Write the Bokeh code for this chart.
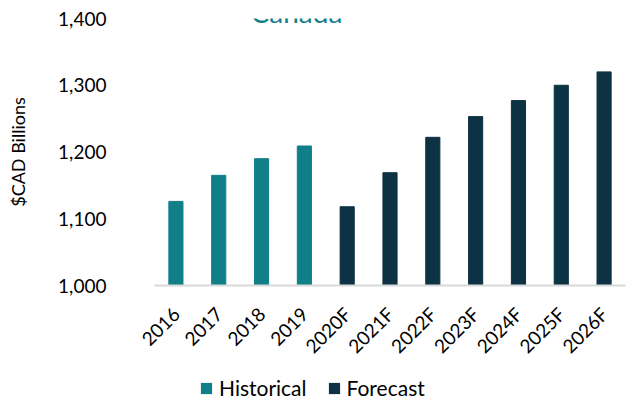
from math import pi
from bokeh.plotting import figure
from bokeh.layouts import column
from bokeh.models import FactorRange, FixedTicker, NumeralTickFormatter, Label, Legend, LegendItem, Range1d
from bokeh.embed import file_html
from bokeh.resources import INLINE

hist_years = ["2016", "2017", "2018", "2019"]
hist_values = [1126, 1165, 1190, 1209]
fc_years = ["2020F", "2021F", "2022F", "2023F", "2024F", "2025F", "2026F"]
fc_values = [1118, 1169, 1222, 1253, 1277, 1300, 1320]
y_ticks = [1000, 1100, 1200, 1300, 1400]
title_text = "- Canada"
y_label = "$CAD Billions"
legend_labels = ["Historical", "Forecast"]

TEAL = "#117F88"
NAVY = "#0D3243"
FONT = "Lato"

years = hist_years + fc_years
xr = FactorRange(factors=years)

p = figure(width=629, height=372, x_range=xr,
           y_range=(1000, 1400), output_backend="svg", toolbar_location=None,
           min_border_left=154, min_border_right=4, min_border_top=18,
           min_border_bottom=87)
p.outline_line_color = None
p.grid.visible = False

p.vbar(x=hist_years, top=hist_values, bottom=1000, width=0.33,
       fill_color=TEAL, line_color=TEAL)
p.vbar(x=fc_years, top=fc_values, bottom=1000, width=0.33,
       fill_color=NAVY, line_color=NAVY)

# y axis
ya = p.yaxis[0]
ya.ticker = FixedTicker(ticks=y_ticks)
ya.formatter = NumeralTickFormatter(format="0,0")
ya.axis_line_color = None
ya.major_tick_line_color = None
ya.minor_tick_line_color = None
ya.major_label_standoff = 42
ya.major_label_text_font = FONT
ya.major_label_text_font_size = "19px"
ya.major_label_text_color = "#000000"
ya.axis_label = y_label
ya.axis_label_text_font = FONT
ya.axis_label_text_font_size = "18px"
ya.axis_label_text_font_style = "normal"
ya.axis_label_text_color = "#000000"
ya.axis_label_standoff = 26

# x axis
xa = p.xaxis[0]
xa.axis_line_color = "#D9D9D9"
xa.axis_line_width = 2
xa.major_tick_line_color = None
xa.minor_tick_line_color = None
xa.major_label_orientation = pi / 4
xa.major_label_standoff = 19
xa.major_label_text_font = FONT
xa.major_label_text_font_size = "19px"
xa.major_label_text_color = "#000000"

# partially visible title
p.add_layout(Label(x=3.11, y=1410, text=title_text, text_font=FONT,
                   text_font_size="28px", text_color=TEAL, text_align="center",
                   text_baseline="alphabetic"))

# legend strip below the chart (same series, drawn out of view; only the legend shows)
p2 = figure(width=629, height=30, x_range=xr, y_range=Range1d(2000, 2001),
            output_backend="svg", toolbar_location=None,
            x_axis_type=None, y_axis_type=None,
            min_border_left=154, min_border_right=4, min_border_top=0,
            min_border_bottom=0)
p2.outline_line_color = None
p2.grid.visible = False
h1 = p2.vbar(x=hist_years, top=hist_values, bottom=1000, width=0.33,
             fill_color=TEAL, line_color=None)
h2 = p2.vbar(x=fc_years, top=fc_values, bottom=1000, width=0.33,
             fill_color=NAVY, line_color=None)

legend = Legend(items=[LegendItem(label=legend_labels[0], renderers=[h1]),
                       LegendItem(label=legend_labels[1], renderers=[h2])],
                orientation="horizontal", location=(45, 2),
                glyph_width=14, glyph_height=14, label_standoff=6, spacing=20,
                padding=0, margin=0, border_line_color=None,
                background_fill_alpha=0, label_text_font=FONT,
                label_text_font_size="21px", label_text_color="#000000",
                label_height=14)
p2.add_layout(legend, "center")

open("out.html", "w").write(file_html(column(p, p2, spacing=0), INLINE))
